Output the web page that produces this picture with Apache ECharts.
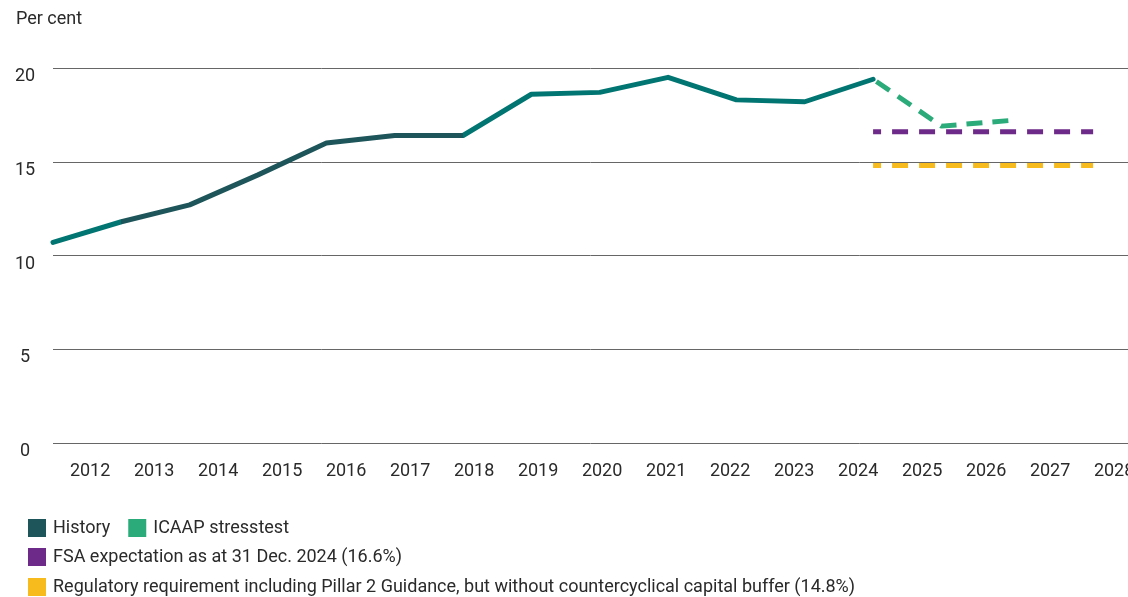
<!DOCTYPE html>
<html>
<head>
<meta charset="utf-8">
<script src="https://cdn.jsdelivr.net/npm/echarts@6/dist/echarts.min.js"></script>
<style>
  html, body { margin: 0; padding: 0; background: #ffffff; }
  #chart { width: 1128px; height: 597px; }
</style>
</head>
<body>
<div id="chart"></div>
<script>
// Capital ratio, per cent
const historyYears = [2012, 2013, 2014, 2015, 2016, 2017, 2018, 2019, 2020, 2021, 2022, 2023, 2024];
const historyValues = [10.7, 11.8, 12.7, 14.3, 16.0, 16.4, 16.4, 18.6, 18.7, 19.5, 18.3, 18.2, 19.4];

const stressYears = [2024, 2025, 2026];
const stressValues = [19.4, 16.9, 17.2];

const fsaExpectation = 16.6;
const regulatoryRequirement = 14.8;
const requirementSpan = [2024, 2027.22];

const yearLabels = [2012, 2013, 2014, 2015, 2016, 2017, 2018, 2019, 2020, 2021, 2022, 2023, 2024, 2025, 2026, 2027, 2028];
const yTicks = [0, 5, 10, 15, 20];

const names = {
  history: 'History',
  stress: 'ICAAP stresstest',
  fsa: 'FSA expectation as at 31 Dec. 2024 (16.6%)',
  reg: 'Regulatory requirement including Pillar 2 Guidance, but without countercyclical capital buffer (14.8%)'
};

const colors = {
  teal: '#007571',
  dark: '#1d555a',
  green: '#2bab7a',
  purple: '#6d2a88',
  yellow: '#f7bb1e',
  text: '#2a2a2a',
  grid: '#666666'
};

const FONT = 'Roboto, "Noto Sans", sans-serif';

const zip = (xs, ys) => xs.map((x, i) => [x, ys[i]]);

const chart = echarts.init(document.getElementById('chart'), null, { renderer: 'canvas' });

const legendBase = {
  icon: 'rect',
  itemWidth: 18,
  itemHeight: 18,
  itemGap: 18,
  left: 28,
  padding: 0,
  orient: 'horizontal',
  selectedMode: false,
  textStyle: { fontSize: 18, color: colors.text, fontFamily: FONT, padding: [0, 0, 0, 2] }
};

chart.setOption({
  animation: false,
  title: {
    text: 'Per cent',
    left: 11,
    top: 5,
    textStyle: { fontSize: 18, fontWeight: 'normal', color: colors.text, fontFamily: FONT }
  },
  grid: { left: 53, right: 0, top: 68, bottom: 154, containLabel: false, outerBoundsMode: 'none' },
  xAxis: [
    {
      // positions of the plotted points
      type: 'value',
      min: 2012,
      max: 2027.73,
      show: false
    },
    {
      // year labels along the bottom
      type: 'value',
      min: 2011.42,
      max: 2028.217,
      position: 'bottom',
      axisLine: { show: false },
      axisTick: { show: false },
      splitLine: { show: false },
      axisLabel: {
        customValues: yearLabels,
        formatter: (v) => String(v),
        fontSize: 18,
        color: colors.text,
        fontFamily: FONT,
        margin: 19,
        hideOverlap: false
      }
    }
  ],
  yAxis: {
    type: 'value',
    min: 0,
    max: 20,
    interval: 5,
    axisLine: { show: false },
    axisTick: { show: false },
    splitLine: { show: true, lineStyle: { color: colors.grid, width: 1 } },
    axisLabel: {
      customValues: yTicks,
      fontSize: 18,
      color: colors.text,
      fontFamily: FONT,
      align: 'center',
      margin: 28,
      verticalAlign: 'top',
      lineHeight: 17
    }
  },
  visualMap: {
    show: false,
    type: 'piecewise',
    seriesIndex: 0,
    dimension: 0,
    pieces: [
      { lt: 2013, color: colors.teal },
      { gte: 2013, lte: 2018, color: colors.dark },
      { gt: 2018, color: colors.teal }
    ]
  },
  legend: [
    Object.assign({}, legendBase, {
      top: 519,
      data: [
        { name: names.history, itemStyle: { color: colors.dark } },
        { name: names.stress, itemStyle: { color: colors.green } }
      ]
    }),
    Object.assign({}, legendBase, {
      top: 548,
      data: [{ name: names.fsa, itemStyle: { color: colors.purple } }]
    }),
    Object.assign({}, legendBase, {
      top: 578,
      data: [{ name: names.reg, itemStyle: { color: colors.yellow } }]
    })
  ],
  series: [
    {
      name: names.history,
      type: 'line',
      xAxisIndex: 0,
      data: zip(historyYears, historyValues),
      showSymbol: false,
      symbol: 'none',
      itemStyle: { color: colors.dark },
      lineStyle: { width: 5, cap: 'round', join: 'round' },
      z: 4
    },
    {
      name: names.stress,
      type: 'line',
      xAxisIndex: 0,
      data: zip(stressYears, stressValues),
      showSymbol: false,
      symbol: 'none',
      itemStyle: { color: colors.green },
      lineStyle: { width: 5, type: [16, 10], dashOffset: -4, color: colors.green },
      z: 3
    },
    {
      name: names.fsa,
      type: 'line',
      xAxisIndex: 0,
      data: requirementSpan.map(x => [x, fsaExpectation]),
      showSymbol: false,
      symbol: 'none',
      itemStyle: { color: colors.purple },
      lineStyle: { width: 5, type: [16, 11], dashOffset: 8, color: colors.purple },
      z: 2
    },
    {
      name: names.reg,
      type: 'line',
      xAxisIndex: 0,
      data: requirementSpan.map(x => [x, regulatoryRequirement]),
      showSymbol: false,
      symbol: 'none',
      itemStyle: { color: colors.yellow },
      lineStyle: { width: 5, type: [16, 11], dashOffset: 8, color: colors.yellow },
      z: 2
    }
  ]
});
</script>
</body>
</html>
